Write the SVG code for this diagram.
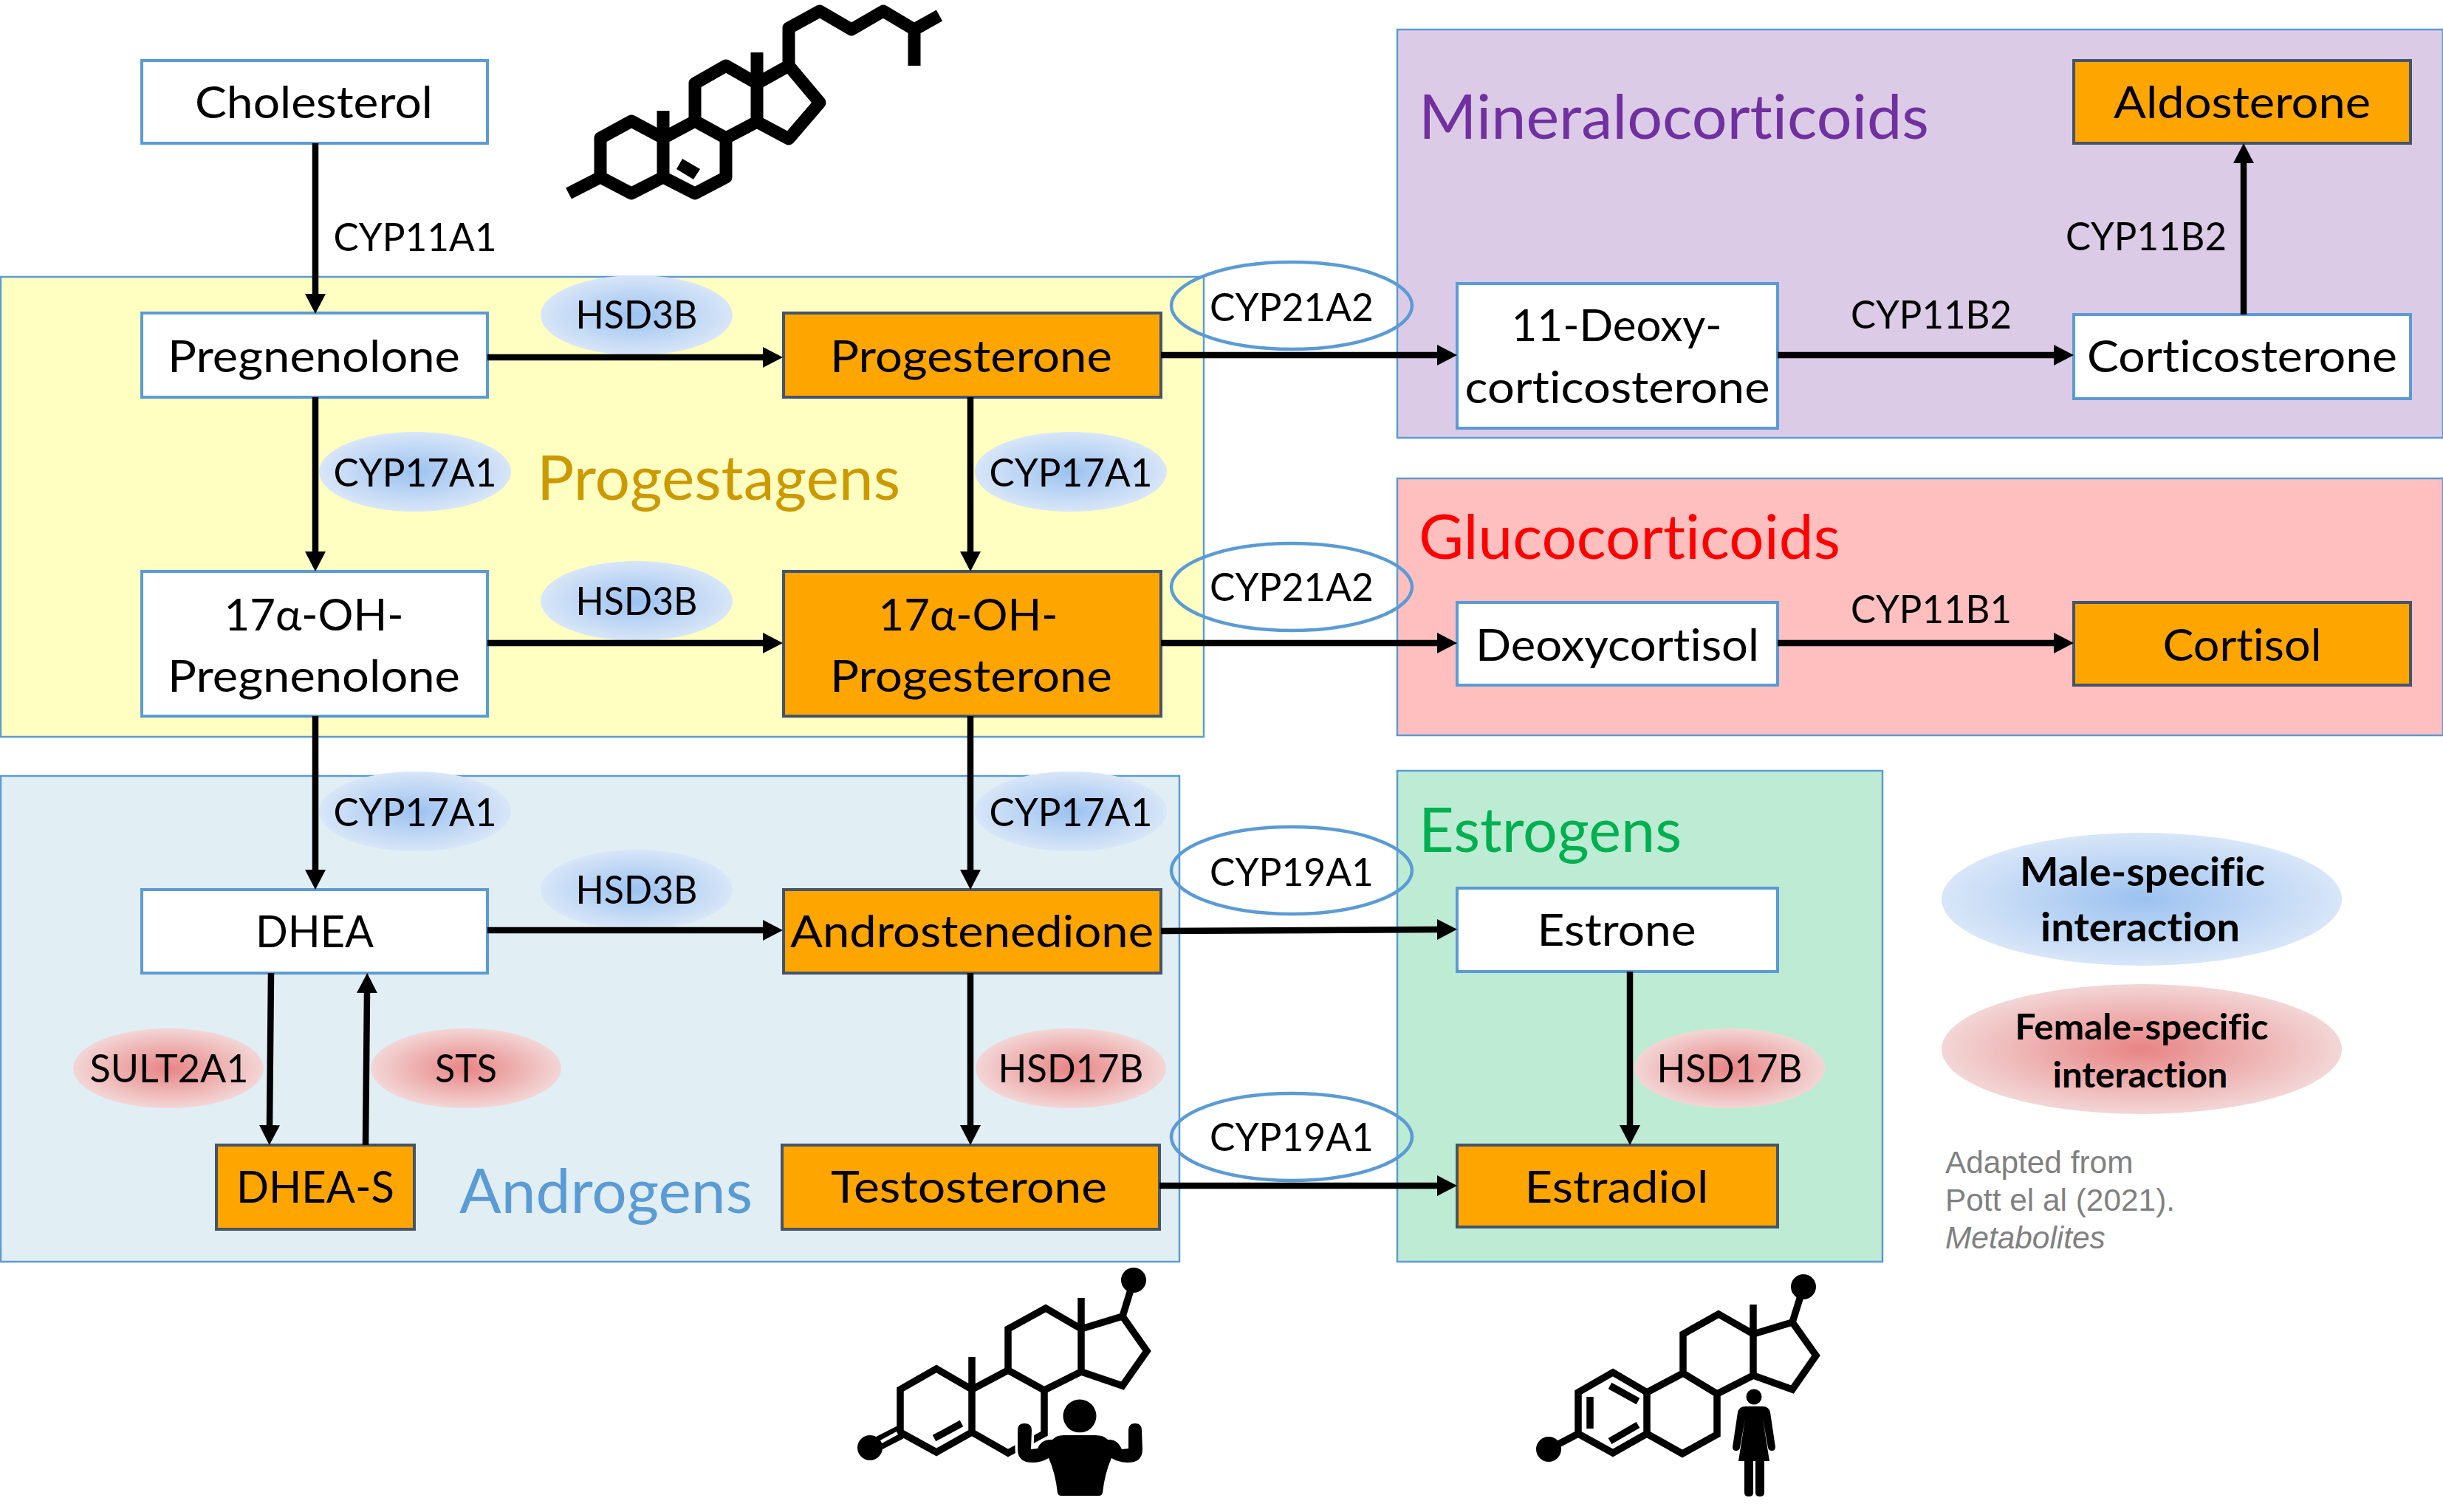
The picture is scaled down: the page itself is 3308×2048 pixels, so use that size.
<svg xmlns="http://www.w3.org/2000/svg" width="3308" height="2048" viewBox="0 0 3308 2048">
<style>
text{font-family:Lato,"Noto Sans",sans-serif;text-anchor:middle;fill:#000;font-variant-ligatures:none}
.n{font-size:60px}
.e{font-size:53px}
.g{font-size:84px;text-anchor:start}
.l{font-size:53px;font-weight:700}
.c{font-family:"Liberation Sans",Arial,sans-serif;font-size:42.4px;fill:#808080;text-anchor:start}
.region{stroke:#5b9bd5;stroke-width:2.5}
.w{fill:#fff;stroke:#5b9bd5;stroke-width:4}
.o{fill:#ffa500;stroke:#44546a;stroke-width:4}
.ring{fill:none;stroke:#5b9bd5;stroke-width:4.5}
.m{fill:url(#blue)}
.f{fill:url(#pink)}
.arrow{stroke:#000;stroke-width:8.5;fill:none;marker-end:url(#head)}
.bond{fill:none;stroke:#000;stroke-linejoin:round;stroke-linecap:butt}
.b17{stroke-width:17}
.b9{stroke-width:9.5;stroke-linejoin:miter}
</style>
<defs>
<marker id="head" markerUnits="userSpaceOnUse" viewBox="0 0 27 28" markerWidth="27" markerHeight="28" refX="1" refY="14" orient="auto"><path d="M0 0L27 14L0 28z" fill="#000"/></marker>
<radialGradient id="blue"><stop offset="0" stop-color="#9cc2f0"/><stop offset="1" stop-color="#d8e6f8"/></radialGradient>
<radialGradient id="pink"><stop offset="0" stop-color="#e88484"/><stop offset="1" stop-color="#f3d6d6"/></radialGradient>
</defs>
<rect width="3308" height="2048" fill="#fff"/>

<g id="regions">
<g id="region-progestagens"><rect class="region" x="1" y="375" width="1629" height="623" fill="#ffffc2"/><text class="g" x="727" y="677" style="fill:#cc9900" textLength="492" lengthAdjust="spacingAndGlyphs">Progestagens</text></g>
<g id="region-androgens"><rect class="region" x="1" y="1051" width="1596" height="658" fill="#e1eef4"/><text class="g" x="622" y="1643" style="fill:#5b9bd5" textLength="397" lengthAdjust="spacingAndGlyphs">Androgens</text></g>
<g id="region-mineralocorticoids"><rect class="region" x="1892" y="40" width="1416" height="553" fill="#dccbe6"/><text class="g" x="1921" y="188" style="fill:#7030a0" textLength="691" lengthAdjust="spacingAndGlyphs">Mineralocorticoids</text></g>
<g id="region-glucocorticoids"><rect class="region" x="1892" y="648" width="1416" height="348" fill="#ffbfbf"/><text class="g" x="1921" y="757" style="fill:#ff0000" textLength="571" lengthAdjust="spacingAndGlyphs">Glucocorticoids</text></g>
<g id="region-estrogens"><rect class="region" x="1892" y="1044" width="657" height="665" fill="#bdebd3"/><text class="g" x="1921" y="1154" style="fill:#00b050" textLength="356" lengthAdjust="spacingAndGlyphs">Estrogens</text></g>
</g>

<g id="enzymes">
<g id="enz-hsd3b-1"><ellipse class="m" cx="862" cy="427" rx="130" ry="54"/><text class="e" x="862" y="445" textLength="165" lengthAdjust="spacingAndGlyphs">HSD3B</text></g>
<g id="enz-hsd3b-2"><ellipse class="m" cx="862" cy="814" rx="130" ry="54"/><text class="e" x="862" y="833" textLength="165" lengthAdjust="spacingAndGlyphs">HSD3B</text></g>
<g id="enz-hsd3b-3"><ellipse class="m" cx="862" cy="1205" rx="130" ry="54"/><text class="e" x="862" y="1224" textLength="165" lengthAdjust="spacingAndGlyphs">HSD3B</text></g>
<g id="enz-cyp17a1-1"><ellipse class="m" cx="562" cy="639" rx="130" ry="54"/><text class="e" x="562" y="659" textLength="221" lengthAdjust="spacingAndGlyphs">CYP17A1</text></g>
<g id="enz-cyp17a1-2"><ellipse class="m" cx="1450" cy="639" rx="130" ry="54"/><text class="e" x="1450" y="659" textLength="221" lengthAdjust="spacingAndGlyphs">CYP17A1</text></g>
<g id="enz-cyp17a1-3"><ellipse class="m" cx="562" cy="1099" rx="130" ry="54"/><text class="e" x="562" y="1119" textLength="221" lengthAdjust="spacingAndGlyphs">CYP17A1</text></g>
<g id="enz-cyp17a1-4"><ellipse class="m" cx="1450" cy="1099" rx="130" ry="54"/><text class="e" x="1450" y="1119" textLength="221" lengthAdjust="spacingAndGlyphs">CYP17A1</text></g>
<g id="enz-sult2a1"><ellipse class="f" cx="228" cy="1447" rx="129" ry="54"/><text class="e" x="229" y="1466" textLength="215" lengthAdjust="spacingAndGlyphs">SULT2A1</text></g>
<g id="enz-sts"><ellipse class="f" cx="631" cy="1447" rx="129" ry="54"/><text class="e" x="631" y="1466" textLength="84" lengthAdjust="spacingAndGlyphs">STS</text></g>
<g id="enz-hsd17b-1"><ellipse class="f" cx="1450" cy="1447" rx="129" ry="54"/><text class="e" x="1450" y="1466" textLength="197" lengthAdjust="spacingAndGlyphs">HSD17B</text></g>
<g id="enz-hsd17b-2"><ellipse class="f" cx="2342" cy="1447" rx="129" ry="54"/><text class="e" x="2342" y="1466" textLength="197" lengthAdjust="spacingAndGlyphs">HSD17B</text></g>
<g id="enz-cyp21a2-1"><ellipse class="ring" cx="1749" cy="414" rx="163" ry="59"/><text class="e" x="1749" y="435" textLength="222" lengthAdjust="spacingAndGlyphs">CYP21A2</text></g>
<g id="enz-cyp21a2-2"><ellipse class="ring" cx="1749" cy="795" rx="163" ry="59"/><text class="e" x="1749" y="814" textLength="222" lengthAdjust="spacingAndGlyphs">CYP21A2</text></g>
<g id="enz-cyp19a1-1"><ellipse class="ring" cx="1749" cy="1179" rx="163" ry="59"/><text class="e" x="1749" y="1200" textLength="222" lengthAdjust="spacingAndGlyphs">CYP19A1</text></g>
<g id="enz-cyp19a1-2"><ellipse class="ring" cx="1749" cy="1540" rx="163" ry="59"/><text class="e" x="1749" y="1559" textLength="222" lengthAdjust="spacingAndGlyphs">CYP19A1</text></g>
<text class="e" x="562" y="340" textLength="221" lengthAdjust="spacingAndGlyphs">CYP11A1</text>
<text class="e" x="2615" y="445" textLength="218" lengthAdjust="spacingAndGlyphs">CYP11B2</text>
<text class="e" x="2906" y="339" textLength="218" lengthAdjust="spacingAndGlyphs">CYP11B2</text>
<text class="e" x="2615" y="844" textLength="218" lengthAdjust="spacingAndGlyphs">CYP11B1</text>
</g>

<g id="node-cholesterol"><rect class="w" x="192" y="82" width="468" height="112"/><text class="n" x="425" y="160" textLength="322" lengthAdjust="spacingAndGlyphs">Cholesterol</text></g>
<g id="node-pregnenolone"><rect class="w" x="192" y="424" width="468" height="114"/><text class="n" x="425" y="504" textLength="396" lengthAdjust="spacingAndGlyphs">Pregnenolone</text></g>
<g id="node-progesterone"><rect class="o" x="1061" y="424" width="511" height="114"/><text class="n" x="1315" y="504" textLength="382" lengthAdjust="spacingAndGlyphs">Progesterone</text></g>
<g id="node-17oh-pregnenolone"><rect class="w" x="192" y="774" width="468" height="196"/><text class="n" x="425" y="854" textLength="243" lengthAdjust="spacingAndGlyphs">17α-OH-</text><text class="n" x="425" y="937" textLength="396" lengthAdjust="spacingAndGlyphs">Pregnenolone</text></g>
<g id="node-17oh-progesterone"><rect class="o" x="1061" y="774" width="511" height="196"/><text class="n" x="1311" y="854" textLength="243" lengthAdjust="spacingAndGlyphs">17α-OH-</text><text class="n" x="1315" y="937" textLength="382" lengthAdjust="spacingAndGlyphs">Progesterone</text></g>
<g id="node-dhea"><rect class="w" x="192" y="1205" width="468" height="113"/><text class="n" x="426" y="1283" textLength="160" lengthAdjust="spacingAndGlyphs">DHEA</text></g>
<g id="node-androstenedione"><rect class="o" x="1061" y="1205" width="511" height="113"/><text class="n" x="1316" y="1283" textLength="492" lengthAdjust="spacingAndGlyphs">Androstenedione</text></g>
<g id="node-dhea-s"><rect class="o" x="293" y="1551" width="268" height="114"/><text class="n" x="427" y="1629" textLength="214" lengthAdjust="spacingAndGlyphs">DHEA-S</text></g>
<g id="node-testosterone"><rect class="o" x="1059" y="1551" width="511" height="114"/><text class="n" x="1312" y="1629" textLength="374" lengthAdjust="spacingAndGlyphs">Testosterone</text></g>
<g id="node-11-deoxycorticosterone"><rect class="w" x="1973" y="384" width="434" height="196"/><text class="n" x="2189" y="462" textLength="285" lengthAdjust="spacingAndGlyphs">11-Deoxy-</text><text class="n" x="2190" y="546" textLength="413" lengthAdjust="spacingAndGlyphs">corticosterone</text></g>
<g id="node-corticosterone"><rect class="w" x="2808" y="426" width="456" height="114"/><text class="n" x="3036" y="504" textLength="420" lengthAdjust="spacingAndGlyphs">Corticosterone</text></g>
<g id="node-aldosterone"><rect class="o" x="2808" y="82" width="456" height="112"/><text class="n" x="3036" y="160" textLength="348" lengthAdjust="spacingAndGlyphs">Aldosterone</text></g>
<g id="node-deoxycortisol"><rect class="w" x="1973" y="816" width="434" height="112"/><text class="n" x="2190" y="895" textLength="384" lengthAdjust="spacingAndGlyphs">Deoxycortisol</text></g>
<g id="node-cortisol"><rect class="o" x="2808" y="816" width="456" height="112"/><text class="n" x="3036" y="895" textLength="215" lengthAdjust="spacingAndGlyphs">Cortisol</text></g>
<g id="node-estrone"><rect class="w" x="1973" y="1203" width="434" height="113"/><text class="n" x="2189" y="1281" textLength="215" lengthAdjust="spacingAndGlyphs">Estrone</text></g>
<g id="node-estradiol"><rect class="o" x="1973" y="1551" width="434" height="111"/><text class="n" x="2189" y="1629" textLength="249" lengthAdjust="spacingAndGlyphs">Estradiol</text></g>

<g id="connectors">
<path class="arrow" d="M427 194V399"/>
<path class="arrow" d="M427 538V748"/>
<path class="arrow" d="M427 970V1179"/>
<path class="arrow" d="M660 484H1034"/>
<path class="arrow" d="M660 871H1034"/>
<path class="arrow" d="M660 1260H1034"/>
<path class="arrow" d="M1314 538V748"/>
<path class="arrow" d="M1314 970V1179"/>
<path class="arrow" d="M1314 1318V1525"/>
<path class="arrow" d="M367 1318L365 1525"/>
<path class="arrow" d="M495 1551L497 1344"/>
<path class="arrow" d="M1572 481H1947"/>
<path class="arrow" d="M1572 871H1947"/>
<path class="arrow" d="M1572 1261L1947 1259"/>
<path class="arrow" d="M1570 1606H1947"/>
<path class="arrow" d="M2207 1316V1525"/>
<path class="arrow" d="M2407 481H2782"/>
<path class="arrow" d="M2407 871H2782"/>
<path class="arrow" d="M3038 426V220"/>
</g>

<g id="legend">
<g id="legend-male"><ellipse class="m" cx="2900" cy="1218" rx="271" ry="90"/><text class="l" x="2901" y="1200" textLength="332" lengthAdjust="spacingAndGlyphs">Male-specific</text><text class="l" x="2898" y="1275" textLength="270" lengthAdjust="spacingAndGlyphs">interaction</text></g>
<g id="legend-female"><ellipse class="f" cx="2900" cy="1421" rx="271" ry="88"/><text class="l" x="2900" y="1408" textLength="343" lengthAdjust="spacingAndGlyphs" style="font-size:47px">Female-specific</text><text class="l" x="2898" y="1473" textLength="237" lengthAdjust="spacingAndGlyphs" style="font-size:47px">interaction</text></g>
<g id="legend-credit"><text class="c" x="2634" y="1589">Adapted from</text><text class="c" x="2634" y="1640">Pott el al (2021).</text><text class="c" x="2634" y="1691" font-style="italic">Metabolites</text></g>
</g>

<g id="cholesterol-molecule">
<path class="bond b17" d="M770 262L813 240V187L855 164L898 187V240L855 262L813 240M898 187V150M898 187L941 164L983 187V240L941 262L898 240M941 164V113L983 89L1025 113V165L983 187M1025 113V71M1025 113L1068 89L1110 139L1068 188L1025 165M1068 89V38L1110 15L1153 40L1196 15L1238 40L1272 21M1238 40V89"/>
<polygon points="916,229 924,215 948,229 939,243" fill="#000"/>
</g>

<g id="testosterone-molecule">
<path class="bond b9" d="M1219 1940V1882L1268 1854L1316 1882V1940L1268 1967L1219 1940M1316 1882L1365 1856L1414 1883V1942L1365 1968L1316 1940M1316 1882V1838M1365 1856V1800L1416 1772L1464 1800V1858L1414 1883M1464 1800V1758M1464 1800L1520 1783L1553 1830L1520 1877L1464 1858M1520 1783L1535 1734M1265 1948L1302 1928"/>
<path class="bond" stroke-width="19" d="M1219 1940L1178 1961"/>
<path class="bond" style="stroke:#fff" stroke-width="4.5" d="M1193 1953L1215 1941"/>
<circle cx="1178" cy="1961" r="17"/><circle cx="1535" cy="1734" r="17"/>
<g id="man-figure">
<circle cx="1462" cy="1918" r="22.5"/>
<path d="M1440 1944H1483Q1495 1944 1500 1950Q1513 1949 1519 1963L1528 1962V1937Q1528 1928 1537 1928Q1546 1928 1546 1937L1547 1963Q1547 1981 1527 1981Q1515 1981 1505 1975Q1496 1995 1493 2022Q1492 2026 1488 2026H1437Q1433 2026 1432 2022Q1429 1995 1420 1975Q1410 1981 1398 1981Q1378 1981 1378 1963L1378 1937Q1378 1928 1387 1928Q1397 1928 1397 1937L1396 1963L1405 1962Q1410 1949 1425 1950Q1430 1944 1440 1944Z" fill="#000" stroke="#fff" stroke-width="7" paint-order="stroke"/>
</g>
</g>

<g id="estradiol-molecule">
<path class="bond b9" d="M2137 1942V1886L2184 1859L2230 1886V1942L2184 1968L2137 1942M2137 1942L2097 1963M2153 1892V1935M2180 1877L2218 1898M2180 1952L2218 1930M2230 1886L2279 1860L2325 1888V1943L2278 1969L2230 1942M2279 1860V1807L2327 1780L2374 1807V1863L2325 1888M2374 1807V1767M2374 1807L2427 1791L2459 1836L2427 1882L2374 1863M2427 1791L2442 1743"/>
<circle cx="2097" cy="1963" r="17"/><circle cx="2442" cy="1743" r="17"/>
<g id="woman-figure">
<circle cx="2375" cy="1892" r="10.5"/>
<path d="M2363 1905H2387Q2395 1905 2397 1913L2404 1960Q2404 1965 2399 1965Q2395 1965 2394 1961L2387 1922L2396 1979H2389V2022Q2389 2027 2383 2027Q2377 2027 2377 2022V1979H2374V2022Q2374 2027 2368 2027Q2362 2027 2362 2022V1979H2354L2363 1922L2356 1961Q2355 1965 2351 1965Q2346 1965 2346 1960L2353 1913Q2355 1905 2363 1905Z" fill="#000"/>
</g>
</g>
</svg>
